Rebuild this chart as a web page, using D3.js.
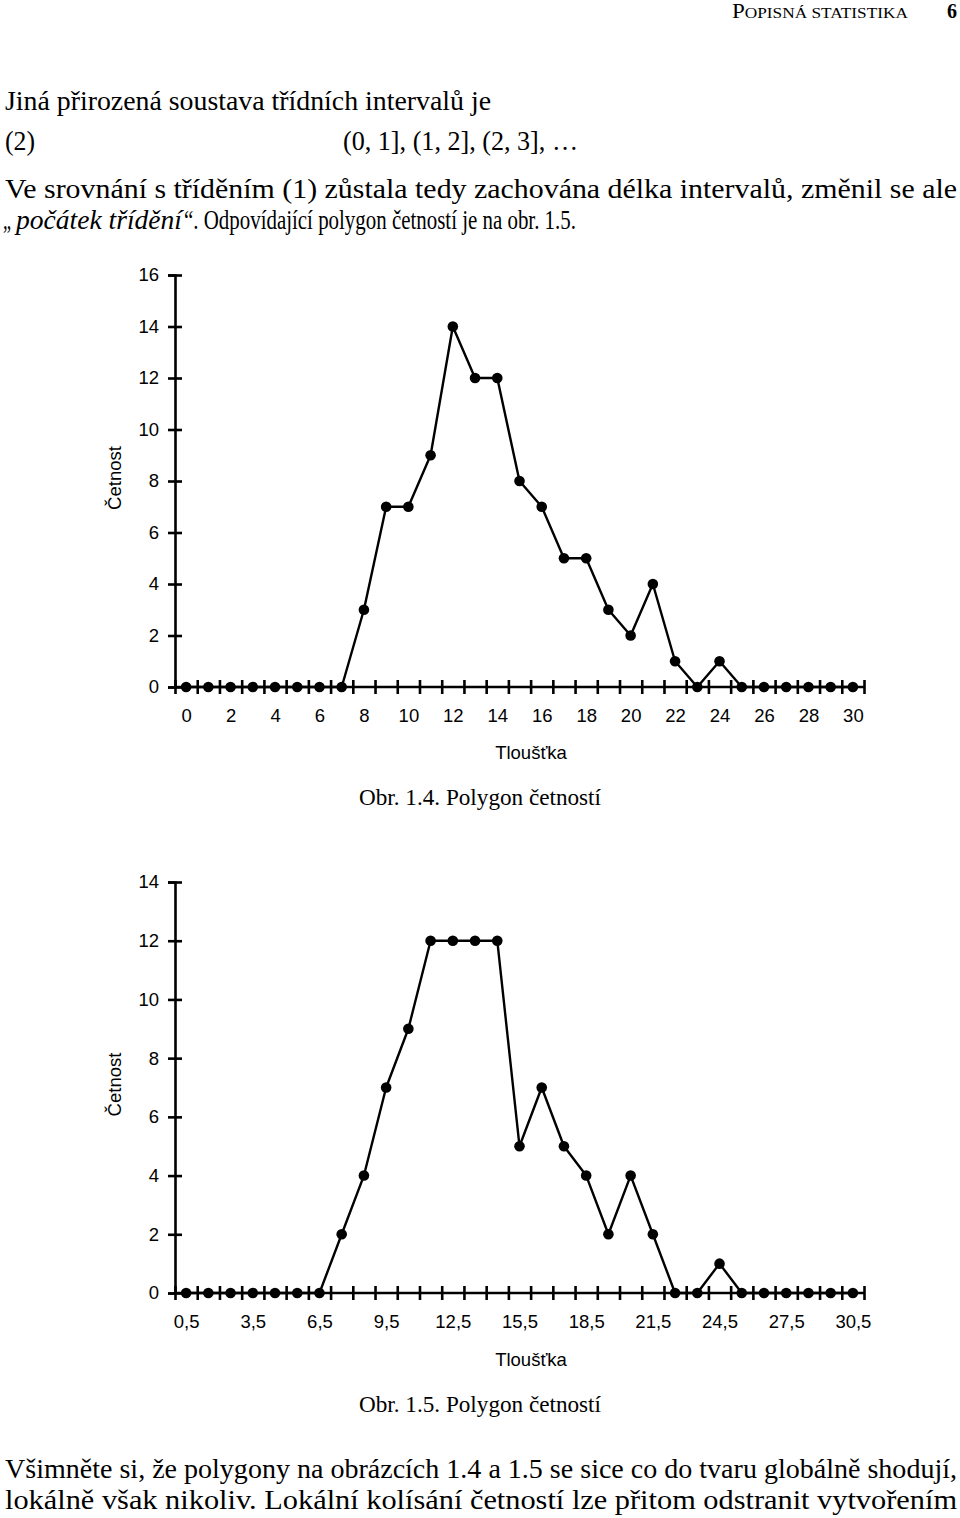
<!DOCTYPE html>
<html><head><meta charset="utf-8">
<script src="https://cdn.jsdelivr.net/npm/d3@7"></script>
<style>body{margin:0;background:#fff}svg{display:block}</style>
</head><body>
<script>
// ---- data ----
const x1Values = d3.range(0, 31);            // Tloušťka, obr. 1.4
const counts1 = [0,0,0,0,0,0,0,0,3,7,7,9,14,12,12,8,7,5,5,3,2,4,1,0,1,0,0,0,0,0,0];
const x1Labels = [0,2,4,6,8,10,12,14,16,18,20,22,24,26,28,30];
const y1Ticks = [0,2,4,6,8,10,12,14,16];

const x2Values = d3.range(0.5, 31, 1);       // Tloušťka, obr. 1.5
const counts2 = [0,0,0,0,0,0,0,2,4,7,9,12,12,12,12,5,7,5,4,2,4,2,0,0,1,0,0,0,0,0,0];
const x2Labels = [0.5,3.5,6.5,9.5,12.5,15.5,18.5,21.5,24.5,27.5,30.5];
const y2Ticks = [0,2,4,6,8,10,12,14];

const W = 960, H = 1518;
const svg = d3.select("body").append("svg").attr("width", W).attr("height", H);
const serif = "'Liberation Serif','Times New Roman',serif";
const sans = "'Liberation Sans',Arial,sans-serif";

// ---- header ----
const hd = svg.append("text").attr("x", 908).attr("y", 18).attr("text-anchor", "end")
  .attr("font-family", serif).attr("font-size", 20)
  .attr("textLength", 176).attr("lengthAdjust", "spacingAndGlyphs");
hd.append("tspan").text("P");
hd.append("tspan").attr("font-size", 15).text("OPISNÁ STATISTIKA");
svg.append("text").attr("x", 952).attr("y", 18).attr("text-anchor", "middle")
  .attr("font-family", serif).attr("font-size", 20).attr("font-weight", "bold").text("6");

// ---- body text ----
function line(x, y, str, len, italic, size) {
  const t = svg.append("text").attr("x", x).attr("y", y).attr("font-family", serif).attr("font-size", size || 28);
  if (len) t.attr("textLength", len).attr("lengthAdjust", "spacingAndGlyphs");
  if (italic) t.attr("font-style", "italic");
  t.text(str);
  return t;
}
line(5, 110, "Jiná přirozená soustava třídních intervalů je", 486);
line(5, 150, "(2)", 30);
line(343, 150, "(0, 1], (1, 2], (2, 3], …", 235);
line(5, 198, "Ve srovnání s tříděním (1) zůstala tedy zachována délka intervalů, změnil se ale", 952);
line(3, 229, "„", 8, false, 27);
line(16, 229, "počátek třídění", 166, true, 27);
line(184, 229, "“. Odpovídající polygon četností je na obr. 1.5.", 392, false, 27);
line(5, 1478, "Všimněte si, že polygony na obrázcích 1.4 a 1.5 se sice co do tvaru globálně shodují,", 952);
line(5, 1509, "lokálně však nikoliv. Lokální kolísání četností lze přitom odstranit vytvořením", 952);

// ---- chart drawing ----
function chart(opts) {
  const {x, y, xs, ys, xTicks, xLabels, yTicks, fmt, title, caption, titleY, capY} = opts;
  const g = svg.append("g");
  const y0 = y(0), x0 = x.range()[0];

  // y axis
  const ya = g.append("g").attr("transform", `translate(${x0},0)`)
    .call(d3.axisLeft(y).tickValues(yTicks).tickSize(7).tickPadding(9).tickFormat(d3.format("d")));
  ya.select(".domain").attr("stroke-width", 2.6).attr("stroke", "#000");
  ya.selectAll(".tick line").attr("x2", -7).attr("x1", 7).attr("stroke-width", 2.6).attr("stroke", "#000");
  ya.selectAll(".tick text").attr("font-family", sans).attr("font-size", 18.5).attr("fill", "#000");

  // x axis (ticks crossing)
  const xa = g.append("g").attr("transform", `translate(0,${y0})`)
    .call(d3.axisBottom(x).tickValues(xTicks).tickSize(7).tickFormat(""));
  xa.select(".domain").attr("stroke-width", 2.6).attr("stroke", "#000").attr("d", `M${x.range()[0]},0H${x.range()[1]}`);
  xa.selectAll(".tick line").attr("y1", -7).attr("y2", 7).attr("stroke-width", 2.6).attr("stroke", "#000");

  // x labels
  const xl = g.append("g").attr("transform", `translate(0,${y0})`)
    .call(d3.axisBottom(x).tickValues(xLabels).tickSize(0).tickPadding(22).tickFormat(fmt));
  xl.select(".domain").remove();
  xl.selectAll(".tick text").attr("font-family", sans).attr("font-size", 18.5).attr("fill", "#000");

  // axis titles
  g.append("text").attr("transform", `translate(121,${(y.range()[0] + y.range()[1]) / 2 - 3}) rotate(-90)`)
    .attr("text-anchor", "middle").attr("font-family", sans).attr("font-size", 18.5).text("Četnost");
  g.append("text").attr("x", 531).attr("y", titleY).attr("text-anchor", "middle")
    .attr("font-family", sans).attr("font-size", 18.5).text(title);
  g.append("text").attr("x", 480).attr("y", capY).attr("text-anchor", "middle")
    .attr("font-family", serif).attr("font-size", 24)
    .attr("textLength", 242).attr("lengthAdjust", "spacingAndGlyphs").text(caption);

  // polygon
  const pts = xs.map((v, i) => [v, ys[i]]);
  g.append("path").datum(pts)
    .attr("d", d3.line().x(d => x(d[0])).y(d => y(d[1])))
    .attr("fill", "none").attr("stroke", "#000").attr("stroke-width", 2.4).attr("stroke-linejoin", "round");
  g.selectAll("circle.pt").data(pts).join("circle").attr("class", "pt")
    .attr("cx", d => x(d[0])).attr("cy", d => y(d[1])).attr("r", 5.3).attr("fill", "#000");
}

chart({
  x: d3.scaleLinear().domain([-0.5, 30.5]).range([175, 864]),
  y: d3.scaleLinear().domain([0, 16]).range([687, 275]),
  xs: x1Values, ys: counts1,
  xTicks: d3.range(-0.5, 31, 1), xLabels: x1Labels, yTicks: y1Ticks,
  fmt: d3.format("d"),
  title: "Tloušťka", caption: "Obr. 1.4. Polygon četností", titleY: 759, capY: 805
});

chart({
  x: d3.scaleLinear().domain([0, 31]).range([175, 864]),
  y: d3.scaleLinear().domain([0, 14]).range([1293, 882]),
  xs: x2Values, ys: counts2,
  xTicks: d3.range(0, 32, 1), xLabels: x2Labels, yTicks: y2Ticks,
  fmt: d => String(d).replace(".", ","),
  title: "Tloušťka", caption: "Obr. 1.5. Polygon četností", titleY: 1366, capY: 1412
});
</script>
</body></html>
